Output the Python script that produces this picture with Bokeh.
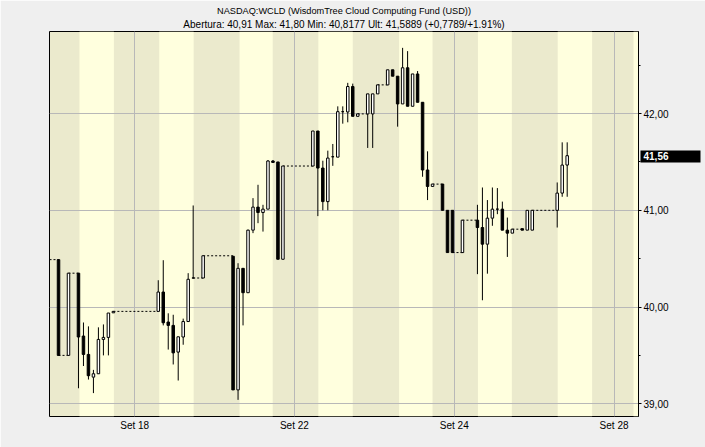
from bokeh.plotting import figure
from bokeh.models import Range1d, FixedTicker, ColumnDataSource, LinearAxis, Title
from bokeh.embed import file_html
from bokeh.resources import INLINE

# ---------------- data ----------------
TITLE = "NASDAQ:WCLD (WisdomTree Cloud Computing Fund (USD))"
SUBTITLE = "Abertura: 40,91 Max: 41,80 Min: 40,8177 Ult: 41,5889 (+0,7789/+1.91%)"
LAST_LABEL = "41,56"
LAST_VALUE = 41.56
PREV_CLOSE = 40.49

slots = [0, 2, 4, 5, 6, 7, 8, 9, 10, 11,
         20, 21, 22, 23, 24, 25, 26, 27, 29,
         35, 36, 37, 38, 39, 40, 41, 42, 43, 44, 45,
         51, 52, 53, 54, 55, 56, 57, 58, 59, 60, 62, 63, 64,
         66, 67, 68, 69, 70, 71, 72, 73, 74, 75, 77, 78, 79,
         81, 84, 85, 86, 87, 88, 89, 90, 91, 93, 94, 95,
         100, 101, 102]
opens = [40.49, 39.50, 40.35, 39.70, 39.51, 39.275, 39.31, 39.665, 39.686, 39.94,
         39.955, 40.155, 39.845, 39.81, 39.534, 39.69, 39.85, 40.30, 40.30,
         40.525, 39.143, 40.40, 40.148, 40.795, 41.033, 40.977, 41.012, 41.51, 41.50, 40.494,
         41.458, 41.82, 41.437, 41.09, 41.554, 41.55, 42.02, 42.017, 42.28, 41.972, 41.997, 41.997, 42.204,
         42.297, 42.453, 42.387, 42.10, 42.474, 42.076, 42.41, 42.117, 41.417, 41.247, 41.271, 41.0, 41.0,
         40.563, 40.898, 40.822, 40.65, 40.919, 41.012, 41.012, 40.795, 40.764, 40.81, 40.795, 40.795,
         41.0, 41.178, 41.468]
closes = [39.50, 40.35, 39.69, 39.51, 39.29, 39.31, 39.665, 39.686, 39.938, 39.955,
          40.155, 39.837, 39.81, 39.526, 39.692, 39.85, 40.287, 40.30, 40.53,
          39.143, 40.40, 40.148, 40.795, 41.033, 40.977, 41.012, 41.51, 41.495, 40.494, 41.458,
          41.82, 41.437, 41.09, 41.54, 41.554, 42.02, 42.02, 42.28, 41.972, 41.997, 42.204, 42.204, 42.297,
          42.453, 42.387, 42.10, 42.474, 42.076, 42.41, 42.117, 41.417, 41.247, 41.271, 41.0, 40.563, 40.563,
          40.898, 40.822, 40.65, 40.919, 41.012, 41.012, 40.795, 40.764, 40.805, 40.795, 41.0, 41.0,
          41.178, 41.468, 41.565]
highs = [40.49, 40.35, 40.35, 39.84, 39.80, 39.35, 39.79, 39.82, 39.938, 39.955,
         40.277, 40.484, 39.935, 39.92, 39.692, 39.88, 40.35, 41.05, 40.53,
         40.525, 40.453, 40.40, 40.80, 41.126, 41.264, 41.057, 41.52, 41.52, 41.50, 41.458,
         41.82, 41.82, 41.513, 41.617, 41.686, 42.075, 42.075, 42.318, 42.31, 41.997, 42.204, 42.204, 42.297,
         42.453, 42.453, 42.387, 42.68, 42.646, 42.41, 42.44, 42.117, 41.61, 41.271, 41.271, 41.0, 41.0,
         40.898, 41.057, 41.236, 41.106, 41.236, 41.23, 41.09, 40.925, 40.805, 40.81, 41.0, 41.0,
         41.288, 41.703, 41.703]
lows = [39.50, 39.50, 39.16, 39.39, 39.25, 39.11, 39.31, 39.50, 39.50, 39.94,
        39.955, 39.81, 39.56, 39.406, 39.24, 39.61, 39.85, 40.30, 40.30,
        39.143, 39.04, 39.81, 40.148, 40.764, 40.867, 40.78, 41.012, 41.495, 40.494, 40.494,
        41.458, 40.94, 41.0, 41.0, 41.46, 41.55, 41.896, 41.91, 41.972, 41.972, 41.645, 41.645, 42.204,
        42.297, 42.387, 41.865, 42.10, 42.076, 42.076, 42.117, 41.347, 41.106, 41.247, 41.0, 40.563, 40.563,
        40.563, 40.34, 40.07, 40.345, 40.84, 40.96, 40.795, 40.518, 40.764, 40.795, 40.795, 40.795,
        40.822, 41.14, 41.14]

date_ticks = [15.27, 47.3, 79.36, 111.4]
date_labels = ["Set 18", "Set 22", "Set 24", "Set 28"]
price_ticks = [39, 40, 41, 42]
price_minor = [38.5, 39.5, 40.5, 41.5, 42.5]
price_labels = ["39,00", "40,00", "41,00", "42,00"]

# ---------------- layout constants ----------------
X0, X1 = -1.81, 116.3
Y0, Y1 = 38.868, 42.849
FRAME_L, FRAME_R, FRAME_T, FRAME_B = 49, 638, 31, 416   # page pixels
W, H = 705, 447
LIGHT_BANDS = [(4.2, 11.1), (20.2, 27.1), (36.3, 42.95), (52.1, 59.0),
               (68.3, 75.0), (84.1, 90.9), (100.1, 107.0), (115.3, 117.0)]
BEIGE = "#EBEACD"
LIGHT = "#FFFFDE"
PAGE_BG = "#EFEFEF"
GRID = "#B8B8B8"
FONT = "Liberation Sans"
MAIN_AXIS_EXTENT = 31     # px taken by the price axis in the right panel
TAG_WIDTH = 60            # px width of the black last-price box

p = figure(width=W, height=H, output_backend="svg", toolbar_location=None,
           x_range=Range1d(X0, X1), y_range=Range1d(Y0, Y1),
           y_axis_location="right", title=None,
           min_border_left=FRAME_L, min_border_top=FRAME_T,
           min_border_right=W - FRAME_R, min_border_bottom=H - FRAME_B)
p.border_fill_color = PAGE_BG
p.background_fill_color = BEIGE
p.outline_line_color = "black"
p.outline_line_width = 1
p.outline_line_alpha = 1

# titles
p.add_layout(Title(text=SUBTITLE, align="center", offset=7, standoff=3,
                   text_font=FONT, text_font_size="10px", text_font_style="normal",
                   text_color="black"), "above")
p.add_layout(Title(text=TITLE, align="center", offset=7, standoff=0,
                   text_font=FONT, text_font_size="9.2px", text_font_style="normal",
                   text_color="black"), "above")

# background bands (below grid)
bands = ColumnDataSource(dict(left=[b[0] for b in LIGHT_BANDS], right=[b[1] for b in LIGHT_BANDS]))
p.quad(left="left", right="right", bottom=Y0, top=Y1, source=bands,
       fill_color=LIGHT, line_color=None, level="image")

# axes
xa = p.xaxis[0]
xa.ticker = FixedTicker(ticks=date_ticks, minor_ticks=[])
xa.major_label_overrides = {t: l for t, l in zip(date_ticks, date_labels)}
xa.axis_line_color = None
xa.major_tick_line_color = None
xa.minor_tick_line_color = None
xa.major_tick_out = 0
xa.major_tick_in = 0
xa.minor_tick_out = 0
xa.minor_tick_in = 0
xa.major_label_standoff = 3
xa.major_label_text_font = FONT
xa.major_label_text_font_size = "10px"
xa.major_label_text_color = "black"

ya = p.yaxis[0]
ya.ticker = FixedTicker(ticks=price_ticks, minor_ticks=price_minor)
ya.major_label_overrides = {t: l for t, l in zip(price_ticks, price_labels)}
ya.axis_line_color = "black"
ya.major_tick_out = 3
ya.major_tick_in = 0
ya.minor_tick_out = 2
ya.minor_tick_in = 0
ya.major_tick_line_color = "black"
ya.minor_tick_line_color = "black"
ya.major_label_standoff = 2
ya.major_label_text_font = FONT
ya.major_label_text_font_size = "10px"
ya.major_label_text_color = "black"

# last-price tag: a second right axis whose single thick tick forms the black box;
# the tick reaches back inward over the price axis so the box starts at the frame edge
tag = LinearAxis(ticker=FixedTicker(ticks=[LAST_VALUE], minor_ticks=[]),
                 major_label_overrides={LAST_VALUE: LAST_LABEL},
                 axis_line_color=None,
                 major_tick_in=MAIN_AXIS_EXTENT,
                 major_tick_out=TAG_WIDTH - MAIN_AXIS_EXTENT,
                 major_tick_line_width=12, major_tick_line_color="black",
                 minor_tick_line_color=None, minor_tick_out=0, minor_tick_in=0,
                 major_label_standoff=3 - TAG_WIDTH,
                 major_label_text_color="white", major_label_text_font_style="bold",
                 major_label_text_font=FONT, major_label_text_font_size="10px")
p.add_layout(tag, "right")

p.xgrid.ticker = FixedTicker(ticks=date_ticks, minor_ticks=[])
p.ygrid.ticker = FixedTicker(ticks=price_ticks, minor_ticks=[])
for g in (p.xgrid, p.ygrid):
    g.grid_line_color = GRID
    g.grid_line_width = 1

# dashed connectors over empty slots (at previous close)
seg_x0, seg_x1, seg_y = [X0], [slots[0]], [PREV_CLOSE]
for i in range(1, len(slots)):
    if slots[i] - slots[i - 1] > 1:
        seg_x0.append(slots[i - 1])
        seg_x1.append(slots[i])
        seg_y.append(closes[i - 1])
p.segment(x0=seg_x0, y0=seg_y, x1=seg_x1, y1=seg_y, line_color="black",
          line_width=1, line_dash="2 2")

# candles
up = [c >= o for o, c in zip(opens, closes)]
src = ColumnDataSource(dict(
    x=slots, high=highs, low=lows,
    top=[max(o, c) for o, c in zip(opens, closes)],
    bottom=[min(o, c) for o, c in zip(opens, closes)],
    fill=["white" if u else "black" for u in up],
))
p.segment(x0="x", y0="low", x1="x", y1="high", source=src, line_color="black", line_width=1)
p.vbar(x="x", width=0.5, top="top", bottom="bottom", source=src,
       fill_color="fill", line_color="black", line_width=1)

html = file_html(p, INLINE)
html = html.replace("<body>", '<body style="background-color:%s;">' % PAGE_BG, 1)
open("out.html", "w").write(html)
